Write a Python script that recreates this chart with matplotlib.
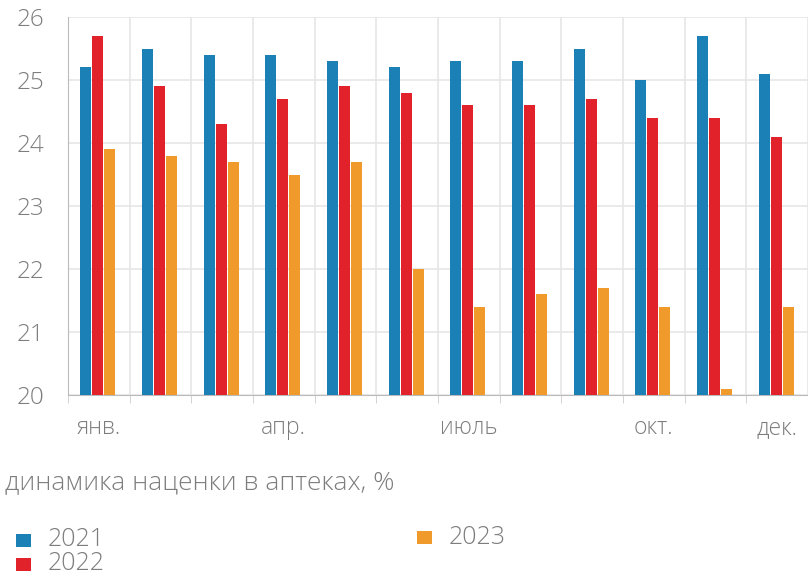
import matplotlib
matplotlib.use("Agg")
import matplotlib.pyplot as plt
from matplotlib.patches import Rectangle
import numpy as np

# ── Данные ────────────────────────────────────────────────────────────────────
MONTHS = ["янв.", "фев.", "мар.", "апр.", "май", "июнь",
          "июль", "авг.", "сен.", "окт.", "нояб.", "дек."]
SHOWN = ["янв.", "апр.", "июль", "окт.", "дек."]
YEARS = ["2021", "2022", "2023"]
V2021 = [25.2, 25.5, 25.4, 25.4, 25.3, 25.2, 25.3, 25.3, 25.5, 25.0, 25.7, 25.1]
V2022 = [25.7, 24.9, 24.3, 24.7, 24.9, 24.8, 24.6, 24.6, 24.7, 24.4, 24.4, 24.1]
V2023 = [23.9, 23.8, 23.7, 23.5, 23.7, 22.0, 21.4, 21.6, 21.7, 21.4, 20.1, 21.4]
Y_TICKS = [20, 21, 22, 23, 24, 25, 26]

COLORS = ["#1b80b6", "#e2222b", "#f09a2b"]
GRID = "#e6e6e6"
TXT = "#7d7d7d"

plt.rcParams["font.family"] = ["Open Sans", "DejaVu Sans"]
plt.rcParams["font.weight"] = "light"

W, H = 808, 577
fig = plt.figure(figsize=(W / 100, H / 100), dpi=100)
ax = fig.add_axes([68 / W, 1 - 395 / H, 740 / W, 378 / H])

x = np.arange(len(MONTHS))
w = 0.18
offs = [-0.21, -0.015, 0.18]
for vals, c, off, lab in zip([V2021, V2022, V2023], COLORS, offs, YEARS):
    ax.bar(x + off, np.array(vals) - 20, width=w, bottom=20, color=c,
           label=lab, zorder=3)

ax.set_xlim(-0.5, len(MONTHS) - 0.5)
ax.set_ylim(20, 26)
ax.set_yticks(Y_TICKS)
ax.set_yticklabels([str(t) for t in Y_TICKS], fontsize=17.5, color=TXT)
ax.set_xticks([MONTHS.index(m) for m in SHOWN])
ax.set_xticklabels(SHOWN, fontsize=16.5, color=TXT)
ax.tick_params(axis="x", length=0, pad=15)
ax.tick_params(axis="y", length=0, pad=17)

# сетка
ax.set_xticks(np.arange(-0.5, len(MONTHS), 1), minor=True)
ax.grid(axis="y", color=GRID, lw=1.2, zorder=0)
ax.grid(axis="x", which="minor", color=GRID, lw=1.2, zorder=0)
ax.tick_params(axis="x", which="minor", length=6, color="#cccccc")
for s in ["top", "right"]:
    ax.spines[s].set_visible(False)
ax.spines["left"].set_color("#bbbbbb")
ax.spines["bottom"].set_color("#bbbbbb")

fig.text(5 / W, 1 - 483 / H, "динамика наценки в аптеках, %",
         fontsize=19, color=TXT, va="center", ha="left")

# легенда
LEG_POS = [(16, 540), (16, 564), (417, 537)]
for (lx, ly), c, lab in zip(LEG_POS, COLORS, YEARS):
    fig.add_artist(Rectangle((lx / W, 1 - (ly + 6.5) / H), 15 / W, 13 / H,
                             transform=fig.transFigure, color=c, lw=0))
    fig.text((lx + 32) / W, 1 - ly / H, lab, fontsize=18, color=TXT,
             va="center", ha="left")

fig.savefig("out.png", dpi=100)
